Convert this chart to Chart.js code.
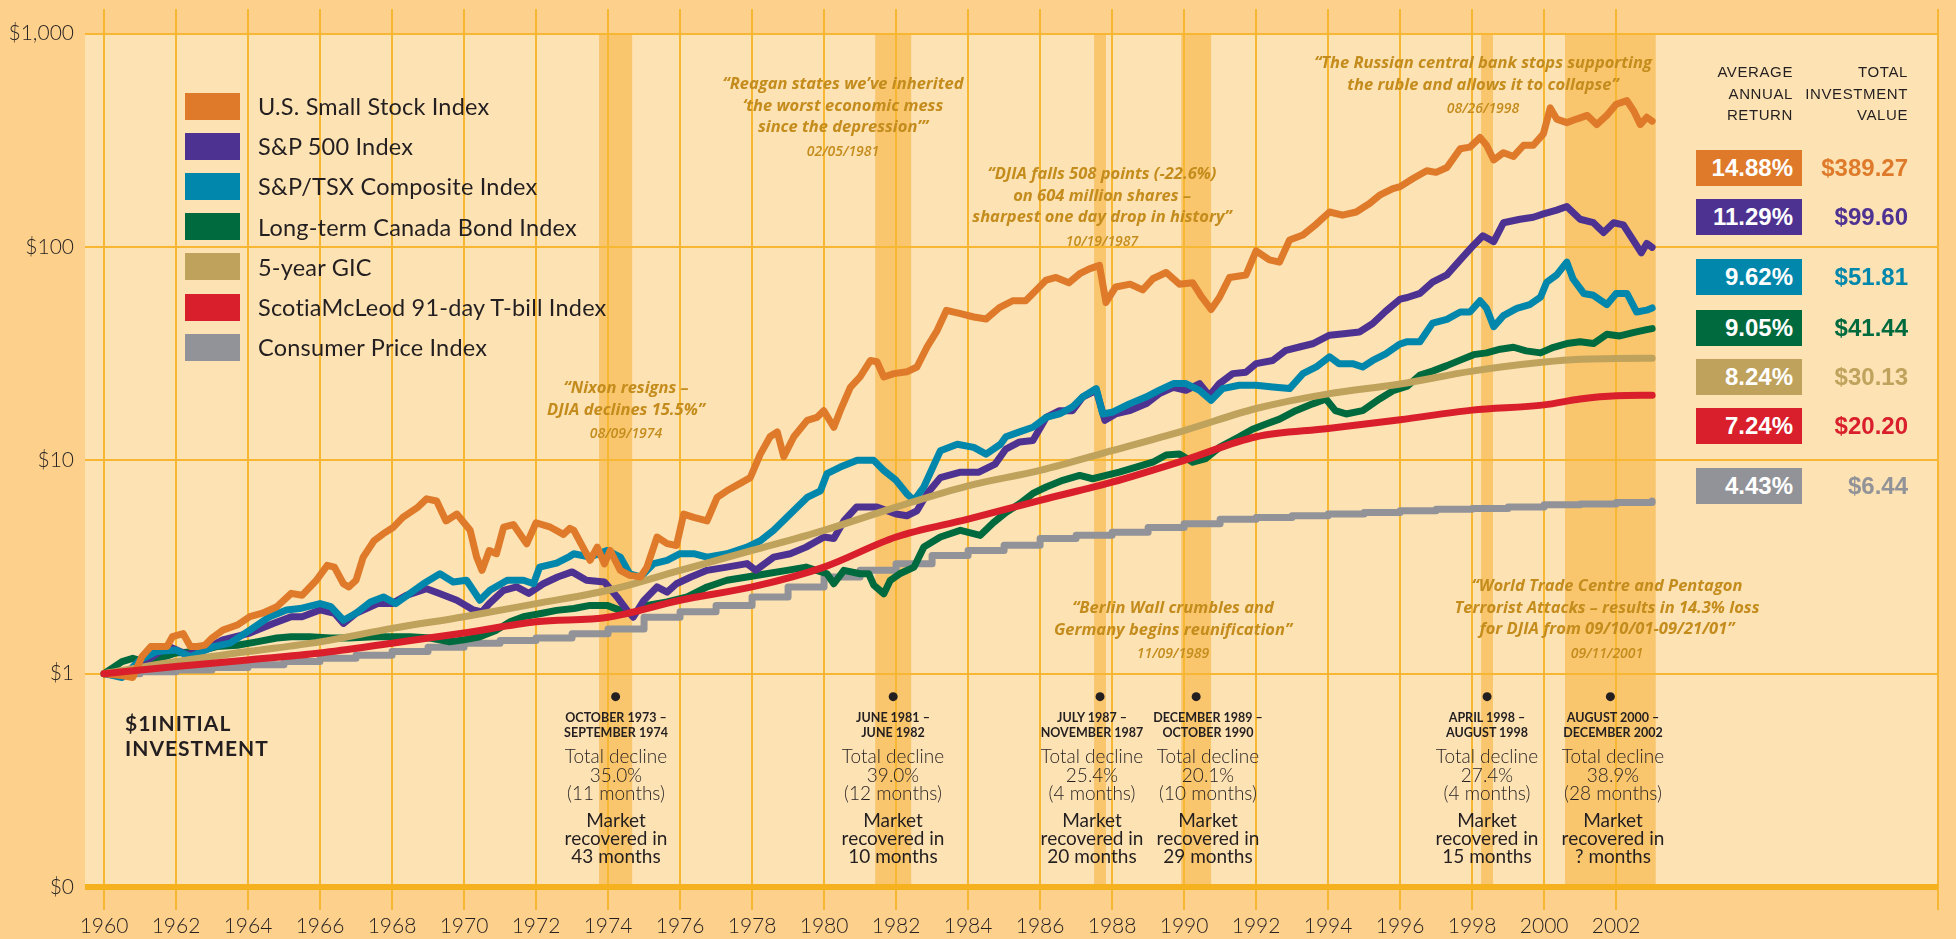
<!DOCTYPE html>
<html>
<head>
<meta charset="utf-8">
<script src="https://cdn.jsdelivr.net/npm/chart.js@4.4.0/dist/chart.umd.min.js"></script>
<style>
  html, body { margin: 0; padding: 0; background: #FDD08C; }
  #wrap { position: relative; width: 1956px; height: 939px; overflow: hidden; font-family: Lato, sans-serif; }
  canvas { position: absolute; left: 0; top: 0; }
  .legend { position: absolute; left: 185px; top: 86px; }
  .legend .row { height: 40.2px; display: flex; align-items: center; font-size: 23.5px; letter-spacing: 0.2px; color: #231F20; white-space: nowrap; }
  .legend .sw { width: 55px; height: 27px; margin-right: 18px; flex: none; }
  .quote { position: absolute; transform: translateX(-50%); text-align: center; color: #C48C1C;
           font-family: "Open Sans", sans-serif; font-style: italic; font-weight: 700; font-size: 16.5px;
           line-height: 21.5px; white-space: nowrap; }
  .quote .date { font-size: 14px; font-weight: 600; line-height: 18px; margin-top: 4.75px; }
  .note { position: absolute; transform: translateX(-50%); text-align: center; color: #231F20; white-space: nowrap; top: 710px; }
  .note .caps { font-size: 12.5px; font-weight: 700; line-height: 15px; }
  .note .decl { font-size: 19px; font-weight: 300; line-height: 18.5px; margin-top: 7.25px; }
  .note .mkt { font-size: 19px; font-weight: 400; line-height: 18px; margin-top: 7.75px; }
  .start { position: absolute; left: 125px; top: 710px; font-size: 21px; font-weight: 700; line-height: 25px;
           letter-spacing: 1px; color: #231F20; }
  .head { position: absolute; top: 61px; font-family: "Liberation Sans", Arial, sans-serif; font-size: 15px;
          line-height: 21.5px; letter-spacing: 0.6px; color: #231F20; text-align: right; }
  .box { position: absolute; left: 1696px; width: 106px; height: 36px; box-sizing: border-box; padding-right: 9px;
         font-family: "Liberation Sans", Arial, sans-serif; font-weight: 700; font-size: 24px; line-height: 36px;
         color: #fff; text-align: right; }
  .val { position: absolute; right: 48px; height: 36px; font-family: "Liberation Sans", Arial, sans-serif;
         font-weight: 700; font-size: 24px; line-height: 36px; text-align: right; }
</style>
</head>
<body>
<div id="wrap">
  <canvas id="chart" width="1956" height="939"></canvas>
</div>
<script>
// ---- data ----
var seriesNames = ["U.S. Small Stock Index", "S&P 500 Index", "S&P/TSX Composite Index",
  "Long-term Canada Bond Index", "5-year GIC", "ScotiaMcLeod 91-day T-bill Index", "Consumer Price Index"];
var seriesColors = ['#DE7A2A', '#4E3292', '#0087AB', '#006A3F', '#BFA25C', '#D91F2B', '#929398'];
var avgReturns = ['14.88%', '11.29%', '9.62%', '9.05%', '8.24%', '7.24%', '4.43%'];
var totalValues = ['$389.27', '$99.60', '$51.81', '$41.44', '$30.13', '$20.20', '$6.44'];

var yearTicks = [1960, 1962, 1964, 1966, 1968, 1970, 1972, 1974, 1976, 1978, 1980, 1982, 1984,
  1986, 1988, 1990, 1992, 1994, 1996, 1998, 2000, 2002];
var valueTicks = [0.1, 1, 10, 100, 1000];
var valueTickLabels = ['$0', '$1', '$10', '$100', '$1,000'];

var smallStockYears = [1960, 1960.5, 1960.8, 1961.05, 1961.3, 1961.75, 1961.9, 1962.2, 1962.4, 1962.6, 1962.8, 1963, 1963.3, 1963.7,
  1964.05, 1964.4, 1964.8, 1965.2, 1965.5, 1965.9, 1966.2, 1966.4, 1966.65, 1966.8, 1967, 1967.2, 1967.5, 1967.75,
  1968.04, 1968.3, 1968.7, 1968.96, 1969.24, 1969.5, 1969.8, 1970.17, 1970.35, 1970.5, 1970.7, 1970.9, 1971.1, 1971.37,
  1971.74, 1972, 1972.4, 1972.76, 1972.94, 1973.05, 1973.3, 1973.5, 1973.7, 1973.9, 1974.06, 1974.34, 1974.6, 1974.9,
  1975.08, 1975.36, 1975.64, 1975.9, 1976.1, 1976.38, 1976.75, 1977.03, 1977.3, 1977.67, 1977.95, 1978.23, 1978.5,
  1978.7, 1978.88, 1979.16, 1979.53, 1979.8, 1979.99, 1980.27, 1980.45, 1980.73, 1981, 1981.29, 1981.47, 1981.66,
  1981.94, 1982.3, 1982.58, 1982.86, 1983.14, 1983.4, 1983.79, 1984.16, 1984.5, 1984.87, 1985.24, 1985.6, 1985.9,
  1986.17, 1986.44, 1986.8, 1987.1, 1987.37, 1987.65, 1987.83, 1988.1, 1988.5, 1988.85, 1989.13, 1989.5, 1989.87,
  1990.24, 1990.5, 1990.75, 1990.98, 1991.26, 1991.72, 1992, 1992.37, 1992.65, 1992.93, 1993.3, 1993.67, 1994.04,
  1994.4, 1994.78, 1995.15, 1995.43, 1995.8, 1996, 1996.37, 1996.74, 1997, 1997.3, 1997.67, 1997.94, 1998.22, 1998.4,
  1998.6, 1998.87, 1999.15, 1999.43, 1999.7, 1999.98, 2000.17, 2000.35, 2000.63, 2000.9, 2001.2, 2001.46, 2001.74,
  2002, 2002.3, 2002.5, 2002.67, 2002.85, 2003];
var smallStockValues = [1, 0.98, 0.96, 1.2, 1.34, 1.34, 1.49, 1.54, 1.34, 1.34, 1.36, 1.47, 1.6, 1.69,
  1.85, 1.92, 2.06, 2.38, 2.33, 2.74, 3.22, 3.16, 2.64, 2.55, 2.74, 3.52, 4.2, 4.52,
  4.86, 5.4, 6.0, 6.6, 6.45, 5.2, 5.6, 4.7, 3.52, 3.05, 3.78, 3.65, 4.86, 5.0,
  4.06, 5.1, 4.86, 4.5, 4.8, 4.7, 3.92, 3.4, 3.92, 3.27, 3.78, 3.05, 2.89, 2.84,
  3.16, 4.37, 4.07, 3.99, 5.6, 5.4, 5.2, 6.7, 7.2, 7.8, 8.3, 10.7, 12.9,
  13.6, 10.4, 12.9, 15.4, 15.9, 17.1, 14.3, 17.1, 22, 24.6, 29.4, 29, 24.6,
  25.5, 26, 27.4, 34, 40.6, 50.5, 48.7, 47, 46, 52, 56, 56, 63,
  70, 72, 68, 75, 79, 82, 55, 65, 67, 63, 71, 76, 67,
  68, 58, 51, 58, 72, 74, 96, 87, 85, 108, 114, 128, 146,
  141, 146, 160, 175, 188, 192, 210, 228, 224, 236, 289, 294, 326, 300,
  256, 277, 266, 300, 300, 339, 449, 398, 383, 398, 414, 375, 414,
  467, 486, 431, 375, 406, 389.27];

var sp500Years = [1960, 1960.5, 1961, 1961.5, 1961.8, 1962.3, 1962.8, 1963.3, 1964.05, 1964.7, 1965.2, 1965.5, 1966, 1966.4,
  1966.65, 1967, 1967.6, 1968, 1968.4, 1968.96, 1969.3, 1969.8, 1970.26, 1970.5, 1970.7, 1971.1, 1971.46, 1971.8,
  1972.2, 1972.6, 1973, 1973.4, 1973.9, 1974.25, 1974.53, 1974.7, 1974.99, 1975.36, 1975.64, 1975.9, 1976.3, 1976.75,
  1977.3, 1977.86, 1978.1, 1978.6, 1979.06, 1979.5, 1980, 1980.27, 1980.55, 1980.9, 1981.2, 1981.47, 1981.75, 1982,
  1982.3, 1982.58, 1982.86, 1983.23, 1983.79, 1984.3, 1984.75, 1985.05, 1985.43, 1985.8, 1986.17, 1986.54, 1986.9,
  1987.18, 1987.56, 1987.8, 1988.1, 1988.48, 1988.94, 1989.3, 1989.7, 1990.05, 1990.43, 1990.7, 1990.98, 1991.35,
  1991.72, 1992, 1992.46, 1992.83, 1993.2, 1993.57, 1994.04, 1994.5, 1994.87, 1995.24, 1995.6, 1996, 1996.2, 1996.55,
  1996.9, 1997.3, 1997.67, 1998.04, 1998.3, 1998.6, 1998.87, 1999.33, 1999.7, 1999.98, 2000.35, 2000.63, 2001,
  2001.37, 2001.65, 2001.93, 2002.2, 2002.5, 2002.7, 2002.85, 2003];
var sp500Values = [1, 0.99, 1.1, 1.25, 1.34, 1.23, 1.3, 1.44, 1.55, 1.72, 1.85, 1.85, 1.99, 1.92,
  1.72, 1.92, 2.13, 2.13, 2.33, 2.5, 2.38, 2.21, 1.99, 1.95, 2.13, 2.46, 2.55, 2.38,
  2.64, 2.84, 3.0, 2.74, 2.69, 2.29, 1.98, 1.84, 2.2, 2.55, 2.41, 2.64, 2.84, 3.05,
  3.16, 3.28, 3.05, 3.52, 3.65, 3.92, 4.37, 4.3, 5.2, 6.04, 6.04, 6.04, 5.8, 5.6,
  5.5, 5.8, 6.97, 8.3, 8.8, 8.8, 9.6, 11.3, 12.2, 12.4, 15.9, 17.1, 17.1,
  19.8, 21.3, 15.4, 16.5, 17.1, 18.4, 20.5, 22, 21.3, 22.9, 20.1, 22.9, 25.5,
  25.9, 28.4, 29.4, 32.8, 34, 35.2, 38.6, 39.3, 40, 43.8, 50, 57, 58, 60.6,
  68.4, 74, 87, 102, 113, 106, 130, 135, 138, 143, 149, 155, 135,
  130, 117, 130, 127, 106, 94, 104, 99.6];

var tsxYears = [1960, 1960.5, 1961, 1961.46, 1962, 1962.4, 1963.04, 1963.5, 1964.05, 1964.6, 1965.07, 1965.44, 1966, 1966.3,
  1966.65, 1967, 1967.4, 1967.76, 1968.1, 1968.5, 1968.87, 1969.33, 1969.7, 1970.07, 1970.44, 1970.72, 1971.2, 1971.65,
  1971.93, 1972.1, 1972.57, 1972.94, 1973.05, 1973.5, 1973.97, 1974.34, 1974.6, 1974.9, 1975.27, 1975.64, 1976, 1976.38,
  1976.75, 1977.3, 1977.86, 1978.23, 1978.6, 1979.06, 1979.53, 1979.9, 1980.08, 1980.45, 1980.92, 1981.38, 1981.66, 1982,
  1982.3, 1982.5, 1982.77, 1983.23, 1983.7, 1984.16, 1984.5, 1984.9, 1985.05, 1985.43, 1985.8, 1986.17, 1986.54, 1986.9,
  1987.18, 1987.56, 1987.74, 1988, 1988.48, 1988.94, 1989.3, 1989.7, 1990.05, 1990.43, 1990.75, 1991.07, 1991.53, 1992,
  1992.46, 1992.93, 1993.3, 1993.67, 1994.04, 1994.3, 1994.68, 1994.96, 1995.24, 1995.6, 1995.98, 1996.2, 1996.55, 1996.9,
  1997.3, 1997.67, 1997.94, 1998.22, 1998.4, 1998.6, 1998.87, 1999.24, 1999.6, 1999.9, 2000.07, 2000.35, 2000.63, 2000.8,
  2001.1, 2001.37, 2001.74, 2002, 2002.3, 2002.57, 2002.85, 2003];
var tsxValues = [1, 0.96, 1.16, 1.27, 1.29, 1.2, 1.34, 1.39, 1.6, 1.85, 1.99, 2.02, 2.13, 2.06,
  1.78, 1.92, 2.17, 2.29, 2.13, 2.38, 2.64, 2.94, 2.69, 2.74, 2.21, 2.46, 2.74, 2.74,
  2.64, 3.16, 3.3, 3.55, 3.65, 3.52, 3.78, 3.52, 2.94, 2.84, 3.28, 3.4, 3.65, 3.65,
  3.52, 3.65, 3.92, 4.2, 4.7, 5.6, 6.7, 7.2, 8.66, 9.3, 10, 10, 8.97, 8.06,
  6.97, 6.5, 7.5, 11.1, 11.9, 11.5, 10.7, 11.9, 12.9, 13.6, 14.3, 15.9, 16.5, 17.8,
  19.8, 21.7, 16.5, 16.8, 18.4, 19.8, 21.3, 22.9, 22.9, 21.3, 19.1, 21.7, 22.5, 22.5,
  22.1, 21.7, 25.5, 27.4, 30.6, 28.4, 28.4, 27.4, 29.4, 31.6, 35, 36, 36, 44,
  45.8, 49.6, 49.6, 56, 51.6, 42.3, 47.7, 51.6, 53.7, 58.2, 68.4, 74, 85, 71,
  60.6, 59.4, 53.7, 60.6, 60.6, 49.6, 50.6, 51.81];

var bondYears = [1960, 1960.5, 1960.8, 1961.1, 1961.55, 1962, 1962.6, 1963.13, 1963.7, 1964.24, 1964.8, 1965.2, 1965.7, 1966.3,
  1966.8, 1967.5, 1968, 1968.5, 1969.06, 1969.6, 1970, 1970.44, 1970.9, 1971.28, 1971.65, 1972.1, 1972.57, 1973.05,
  1973.5, 1973.97, 1974.34, 1974.7, 1975.08, 1975.64, 1976.2, 1976.75, 1977.3, 1977.86, 1978.4, 1978.97, 1979.5, 1980.08,
  1980.27, 1980.55, 1981, 1981.24, 1981.38, 1981.66, 1981.84, 1982.1, 1982.5, 1982.77, 1983.23, 1983.79, 1984.34, 1984.7,
  1985.05, 1985.43, 1985.8, 1986.17, 1986.63, 1987.1, 1987.46, 1987.83, 1988.2, 1988.67, 1989.13, 1989.5, 1989.87, 1990.24,
  1990.6, 1990.98, 1991.53, 1991.9, 1992.28, 1992.65, 1993.1, 1993.57, 1993.94, 1994.2, 1994.5, 1994.96, 1995.43, 1995.8,
  1996.2, 1996.55, 1996.9, 1997.3, 1997.67, 1998.04, 1998.4, 1998.78, 1999.15, 1999.5, 1999.9, 2000.26, 2000.63, 2001,
  2001.37, 2001.74, 2002.1, 2002.5, 2002.85, 2003];
var bondValues = [1, 1.14, 1.18, 1.14, 1.18, 1.25, 1.27, 1.34, 1.36, 1.41, 1.47, 1.49, 1.49, 1.47,
  1.47, 1.49, 1.49, 1.49, 1.47, 1.41, 1.44, 1.49, 1.6, 1.75, 1.85, 1.91, 1.98, 2.02,
  2.09, 2.09, 1.98, 1.91, 2.09, 2.17, 2.29, 2.55, 2.74, 2.84, 2.94, 3.05, 3.16, 2.94,
  2.64, 3.05, 2.94, 2.94, 2.6, 2.37, 2.74, 2.94, 3.16, 3.92, 4.37, 4.7, 4.45, 5.1,
  5.7, 6.26, 7.0, 7.5, 8.06, 8.5, 8.2, 8.5, 8.8, 9.3, 9.8, 10.6, 10.7, 9.8,
  10.2, 11.5, 12.9, 14.0, 14.8, 15.6, 17.1, 18.4, 19.4, 17.1, 16.5, 17.1, 19.4, 21.2,
  22.3, 25.1, 26.2, 27.8, 29.5, 31.3, 31.9, 33.2, 33.9, 32.6, 31.9, 33.9, 35.3, 36,
  35.3, 39, 38.3, 39.8, 41, 41.44];

var gicYears = [1960, 1962, 1964, 1966, 1968, 1970, 1972, 1974, 1976, 1978, 1980, 1982, 1984, 1986, 1988, 1990,
  1992, 1994, 1996, 1998, 2000, 2001, 2002, 2003];
var gicValues = [1, 1.14, 1.27, 1.41, 1.63, 1.85, 2.13, 2.46, 3.05, 3.78, 4.7, 6.04, 7.6, 8.97, 11.1, 13.8,
  17.5, 20.5, 22.8, 26.2, 28.9, 29.8, 30.0, 30.13];

var tbillYears = [1960, 1962, 1964, 1966, 1968, 1970, 1972, 1974, 1976, 1978, 1980, 1982, 1984, 1986, 1988, 1990,
  1992, 1994, 1996, 1998, 2000, 2001, 2002, 2003];
var tbillValues = [1, 1.08, 1.16, 1.25, 1.39, 1.55, 1.75, 1.84, 2.21, 2.55, 3.16, 4.37, 5.3, 6.5, 7.9, 10.0,
  12.9, 14.1, 15.5, 17.2, 18.2, 19.4, 20.1, 20.2];

var cpiYears = [1960, 1961, 1962, 1963, 1964, 1965, 1966, 1967, 1968, 1969, 1970, 1971, 1972, 1973, 1974, 1975,
  1976, 1977, 1978, 1979, 1980, 1981, 1982, 1983, 1984, 1985, 1986, 1987, 1988, 1989, 1990, 1991, 1992, 1993,
  1994, 1995, 1996, 1997, 1998, 1999, 2000, 2001, 2002, 2003];
var cpiValues = [1, 1.02, 1.04, 1.07, 1.1, 1.14, 1.18, 1.22, 1.27, 1.33, 1.39, 1.43, 1.47, 1.54, 1.62, 1.84,
  1.95, 2.09, 2.29, 2.55, 2.84, 3.05, 3.28, 3.58, 3.78, 4.0, 4.3, 4.45, 4.6, 4.85, 5.05, 5.3, 5.4, 5.5,
  5.6, 5.7, 5.8, 5.9, 5.95, 6.05, 6.2, 6.25, 6.35, 6.44];

// market declines (shaded periods)
var declineStarts = [1973.75, 1981.42, 1987.5, 1989.92, 1998.25, 2000.58];
var declineEnds = [1974.67, 1982.42, 1987.83, 1990.75, 1998.58, 2003.1];
var declinePeriods = [['OCTOBER 1973 –', 'SEPTEMBER 1974'], ['JUNE 1981 –', 'JUNE 1982'], ['JULY 1987 –', 'NOVEMBER 1987'],
  ['DECEMBER 1989 –', 'OCTOBER 1990'], ['APRIL 1998 –', 'AUGUST 1998'], ['AUGUST 2000 –', 'DECEMBER 2002']];
var declinePct = ['35.0%', '39.0%', '25.4%', '20.1%', '27.4%', '38.9%'];
var declineMonths = ['11', '12', '4', '10', '4', '28'];
var recoveryMonths = ['43', '10', '20', '29', '15', '?'];

var quotes = [
  {x: 626, y: 387, lines: ['“Nixon resigns –', 'DJIA declines 15.5%”'], date: '08/09/1974'},
  {x: 843, y: 83, lines: ['“Reagan states we’ve inherited', '‘the worst economic mess', 'since the depression’”'], date: '02/05/1981'},
  {x: 1102, y: 173, lines: ['“DJIA falls 508 points (-22.6%)', 'on 604 million shares –', 'sharpest one day drop in history”'], date: '10/19/1987'},
  {x: 1483, y: 62, lines: ['“The Russian central bank stops supporting', 'the ruble and allows it to collapse”'], date: '08/26/1998'},
  {x: 1173, y: 607, lines: ['“Berlin Wall crumbles and', 'Germany begins reunification”'], date: '11/09/1989'},
  {x: 1607, y: 585, lines: ['“World Trade Centre and Pentagon', 'Terrorist Attacks – results in 14.3% loss', 'for DJIA from 09/10/01-09/21/01”'], date: '09/11/2001'}
];
var noteCenters = [616, 893, 1092, 1208, 1487, 1613];

function pts(xs, ys) { return xs.map(function (x, i) { return {x: x, y: ys[i]}; }); }

var seriesData = [
  pts(smallStockYears, smallStockValues), pts(sp500Years, sp500Values), pts(tsxYears, tsxValues),
  pts(bondYears, bondValues), pts(gicYears, gicValues), pts(tbillYears, tbillValues), pts(cpiYears, cpiValues)
];
var drawOrder = [2, 5, 4, 6, 3, 1, 7];

var datasets = seriesNames.map(function (name, i) {
  return {
    label: name,
    data: seriesData[i],
    borderColor: seriesColors[i],
    backgroundColor: seriesColors[i],
    borderWidth: 7,
    pointRadius: 0,
    fill: false,
    order: drawOrder[i],
    stepped: i === 6 ? 'before' : false,
    cubicInterpolationMode: (i === 4 || i === 5) ? 'monotone' : 'default',
    borderJoinStyle: 'round',
    borderCapStyle: 'round'
  };
});

var backdrop = {
  id: 'backdrop',
  beforeDraw: function (chart) {
    var ctx = chart.ctx, area = chart.chartArea, x = chart.scales.x, y = chart.scales.y;
    ctx.save();
    ctx.fillStyle = '#FDD08C';
    ctx.fillRect(0, 0, chart.width, chart.height);
    var top = y.getPixelForValue(1000), bottom = y.getPixelForValue(0.1);
    ctx.fillStyle = '#FDE2B4';
    ctx.fillRect(area.left, top, area.right - area.left, bottom - top);
    ctx.fillStyle = '#F9C66E';
    declineStarts.forEach(function (s, i) {
      var x0 = x.getPixelForValue(s), x1 = x.getPixelForValue(declineEnds[i]);
      ctx.fillRect(x0, top, x1 - x0, bottom - top);
    });
    ctx.restore();
  },
  afterDatasetsDraw: function (chart) {
    var ctx = chart.ctx, x = chart.scales.x, y = chart.scales.y;
    ctx.save();
    ctx.fillStyle = '#231F20';
    declineStarts.forEach(function (s, i) {
      var cx = x.getPixelForValue((s + declineEnds[i]) / 2);
      ctx.beginPath();
      ctx.arc(cx, y.getPixelForValue(1) + 23, 4.5, 0, Math.PI * 2);
      ctx.fill();
    });
    ctx.restore();
  }
};

new Chart(document.getElementById('chart').getContext('2d'), {
  type: 'line',
  data: { datasets: datasets },
  plugins: [backdrop],
  options: {
    responsive: false,
    animation: false,
    layout: { padding: { top: 9, right: 18, left: 0, bottom: 0 } },
    plugins: { legend: { display: false }, tooltip: { enabled: false } },
    scales: {
      x: {
        type: 'linear',
        min: 1959.472,
        max: 2010.94,
        afterBuildTicks: function (s) { s.ticks = yearTicks.concat([2010.94]).map(function (v) { return {value: v}; }); },
        afterFit: function (s) { s.height = 29; s.paddingLeft = 0; s.paddingRight = 0; },
        border: { display: false },
        grid: { color: '#F7B733', lineWidth: 2, drawTicks: false },
        ticks: {
          autoSkip: false, maxRotation: 0, padding: 4, color: '#231F20',
          font: { family: 'Lato', size: 21, weight: '300' },
          callback: function (v) { return v <= 2002 ? String(v) : ''; }
        }
      },
      y: {
        type: 'logarithmic',
        min: 0.078,
        max: 1306,
        afterBuildTicks: function (s) { s.ticks = valueTicks.map(function (v) { return {value: v}; }); },
        afterFit: function (s) { s.width = 85; s.paddingTop = 0; s.paddingBottom = 0; },
        border: { display: false },
        grid: {
          drawTicks: false,
          color: function (c) { return c.tick && c.tick.value === 0.1 ? '#F6B11E' : '#F7B733'; },
          lineWidth: function (c) { return c.tick && c.tick.value === 0.1 ? 6 : 2; }
        },
        ticks: {
          padding: 11, color: '#231F20',
          font: { family: 'Lato', size: 21, weight: '300' },
          callback: function (v) { var k = valueTicks.indexOf(v); return k >= 0 ? valueTickLabels[k] : ''; }
        }
      }
    }
  }
});

// ---- text overlays ----
var wrap = document.getElementById('wrap');
function add(cls, css, html) {
  var d = document.createElement('div');
  d.className = cls;
  d.style.cssText = css;
  d.innerHTML = html;
  wrap.appendChild(d);
  return d;
}
function esc(s) { return s.replace(/&/g, '&amp;'); }

add('legend', '', seriesNames.map(function (n, i) {
  return '<div class="row"><span class="sw" style="background:' + seriesColors[i] + '"></span>' + esc(n) + '</div>';
}).join(''));

quotes.forEach(function (q) {
  add('quote', 'left:' + q.x + 'px;top:' + (q.y - 10.75) + 'px;',
    q.lines.map(function (l) { return '<div>' + l + '</div>'; }).join('') + '<div class="date">' + q.date + '</div>');
});

noteCenters.forEach(function (cx, i) {
  add('note', 'left:' + cx + 'px;',
    '<div class="caps">' + declinePeriods[i][0] + '<br>' + declinePeriods[i][1] + '</div>' +
    '<div class="decl">Total decline<br>' + declinePct[i] + '<br>(' + declineMonths[i] + ' months)</div>' +
    '<div class="mkt">Market<br>recovered in<br>' + recoveryMonths[i] + ' months</div>');
});

add('start', '', '$1INITIAL<br>INVESTMENT');

add('head', 'right:' + (1956 - 1793) + 'px;', 'AVERAGE<br>ANNUAL<br>RETURN');
add('head', 'right:' + (1956 - 1908) + 'px;', 'TOTAL<br>INVESTMENT<br>VALUE');

var rowCenters = [168, 217, 277, 328, 377, 426, 486];
avgReturns.forEach(function (r, i) {
  add('box', 'top:' + (rowCenters[i] - 18) + 'px;background:' + seriesColors[i] + ';', r);
  add('val', 'top:' + (rowCenters[i] - 18) + 'px;color:' + seriesColors[i] + ';', totalValues[i]);
});
</script>
</body>
</html>
